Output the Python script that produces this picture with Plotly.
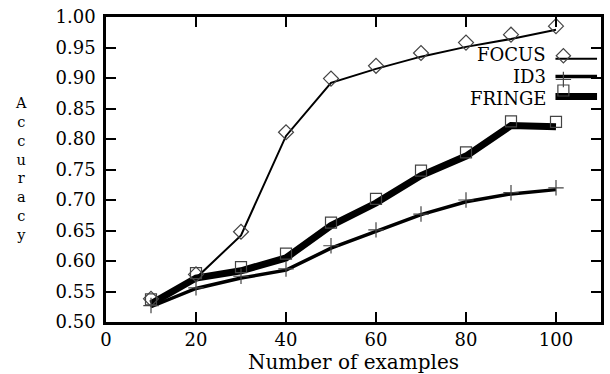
import plotly.graph_objects as go

# ---- data ----
n_examples = [10, 20, 30, 40, 50, 60, 70, 80, 90, 100]

focus_line = [0.530, 0.572, 0.642, 0.805, 0.892, 0.915, 0.935, 0.951, 0.964, 0.979]
focus_pts = [0.538, 0.578, 0.648, 0.811, 0.899, 0.920, 0.941, 0.958, 0.971, 0.985]

id3_line = [0.525, 0.555, 0.572, 0.585, 0.621, 0.648, 0.676, 0.697, 0.710, 0.717]
id3_pts = [0.527, 0.556, 0.575, 0.587, 0.625, 0.651, 0.677, 0.700, 0.712, 0.720]

fringe_line = [0.530, 0.572, 0.584, 0.605, 0.658, 0.695, 0.740, 0.772, 0.822, 0.820]
fringe_pts = [0.537, 0.580, 0.590, 0.612, 0.663, 0.702, 0.748, 0.778, 0.829, 0.828]

series_names = ["FOCUS", "ID3", "FRINGE"]
x_ticks = [0, 20, 40, 60, 80, 100]
y_ticks = [0.50, 0.55, 0.60, 0.65, 0.70, 0.75, 0.80, 0.85, 0.90, 0.95, 1.00]
y_title = "Accuracy"

FONT = "DejaVu Serif"
MK = "#444444"

fig = go.Figure()

# lines
fig.add_trace(go.Scatter(x=n_examples, y=id3_line, mode="lines",
                         line=dict(color="black", width=3.5), showlegend=False))
fig.add_trace(go.Scatter(x=n_examples, y=fringe_line, mode="lines",
                         line=dict(color="black", width=7), showlegend=False))
fig.add_trace(go.Scatter(x=n_examples, y=focus_line, mode="lines",
                         line=dict(color="black", width=2), showlegend=False))
# markers
fig.add_trace(go.Scatter(x=n_examples, y=focus_pts, mode="markers",
                         marker=dict(symbol="diamond-open", size=11.5, color=MK,
                                     line=dict(width=1.2, color=MK)), showlegend=False))
fig.add_trace(go.Scatter(x=n_examples, y=id3_pts, mode="markers",
                         marker=dict(symbol="cross-thin", size=11, color=MK,
                                     line=dict(width=1.2, color=MK)), showlegend=False))
fig.add_trace(go.Scatter(x=n_examples, y=fringe_pts, mode="markers",
                         marker=dict(symbol="square-open", size=11, color=MK,
                                     line=dict(width=1.2, color=MK)), showlegend=False))

# custom legend (on overlay unit axes)
leg_text_y = [0.876, 0.804, 0.733]
leg_line_y = [0.863, 0.805, 0.739]
leg_mark_y = [0.873, 0.795, 0.759]
leg_widths = [2, 3.5, 7]
leg_symbols = ["diamond-open", "cross-thin", "square-open"]
for name, ty, ly, my, w, sym in zip(series_names, leg_text_y, leg_line_y, leg_mark_y,
                                    leg_widths, leg_symbols):
    fig.add_trace(go.Scatter(x=[0.908, 0.992], y=[ly, ly], mode="lines",
                             line=dict(color="black", width=w), xaxis="x2", yaxis="y2",
                             showlegend=False))
    fig.add_trace(go.Scatter(x=[0.924], y=[my], mode="markers",
                             marker=dict(symbol=sym, size=11, color=MK,
                                         line=dict(width=1.2, color=MK)),
                             xaxis="x2", yaxis="y2", showlegend=False))
    fig.add_annotation(text=name, x=0.892, y=ty, xref="paper", yref="paper",
                       xanchor="right", yanchor="middle", showarrow=False,
                       font=dict(family=FONT, size=18, color="black"))

# stacked y title
fig.add_annotation(text="<br>".join(list(y_title)),
                   x=(20 - 106) / 498, y=(322 - 168) / 307,
                   xref="paper", yref="paper", xanchor="center", yanchor="middle",
                   showarrow=False, font=dict(family=FONT, size=14.5, color="black"))

axis_common = dict(showgrid=False, zeroline=False, showline=True, linecolor="black",
                   linewidth=2.5, mirror="ticks", ticks="inside", ticklen=10,
                   tickwidth=2, tickcolor="black",
                   tickfont=dict(family=FONT, size=18, color="black"))

fig.update_layout(
    width=610, height=374,
    margin=dict(l=106, r=6, t=15, b=52),
    paper_bgcolor="white", plot_bgcolor="white",
    xaxis=dict(range=[0, 110], tickvals=x_ticks, ticktext=[str(v) for v in x_ticks],
               title=dict(text="Number of examples", standoff=0,
                          font=dict(family=FONT, size=20, color="black")),
               **axis_common),
    yaxis=dict(range=[0.5, 1.0], tickvals=y_ticks,
               ticktext=[f"{v:.2f}" for v in y_ticks], ticklabelstandoff=4,
               **axis_common),
    xaxis2=dict(range=[0, 1], overlaying="x", visible=False),
    yaxis2=dict(range=[0, 1], overlaying="y", visible=False),
    showlegend=False,
)

fig.write_html("out.html")
